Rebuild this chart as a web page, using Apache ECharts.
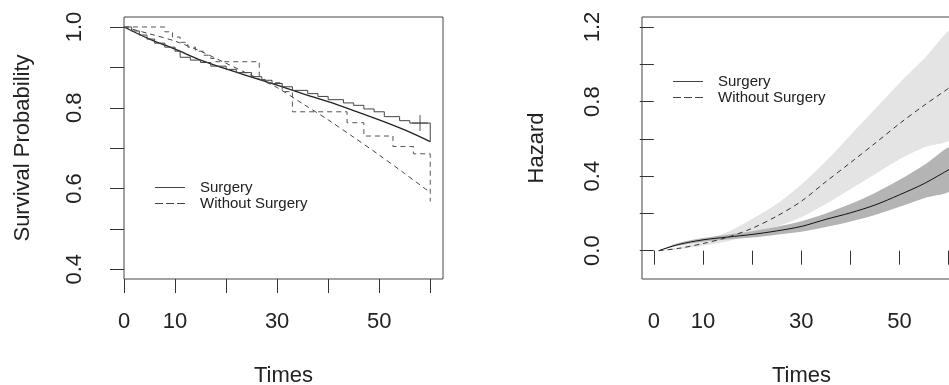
<!DOCTYPE html>
<html>
<head>
<meta charset="utf-8">
<script src="https://cdn.jsdelivr.net/npm/echarts@6/dist/echarts.min.js"></script>
<style>
  html, body { margin: 0; padding: 0; background: #fff; }
  #chart { width: 949px; height: 385px; }
</style>
</head>
<body>
<div id="chart"></div>
<script>
// left panel: survival curves
const survTimes = [0, 5, 10, 15, 20, 25, 30, 35, 40, 45, 50, 55, 60];
const survFitSurgery = [1.0, 0.97, 0.945, 0.918, 0.896, 0.876, 0.856, 0.835, 0.815, 0.793, 0.77, 0.745, 0.716];
const survFitNoSurgery = [1.0, 0.983, 0.965, 0.94, 0.91, 0.88, 0.85, 0.81, 0.77, 0.727, 0.683, 0.637, 0.59];

const kmTimesSurgery = [0, 1.5, 3, 4.5, 6, 8, 10, 11, 13, 15, 17, 20, 22, 25, 27, 29, 31, 33, 36, 38, 40, 43, 45, 47, 49, 51, 54, 56, 60];
const kmSurvSurgery = [1, 0.99, 0.98, 0.97, 0.96, 0.95, 0.94, 0.925, 0.918, 0.912, 0.903, 0.895, 0.887, 0.877, 0.868, 0.86, 0.852, 0.843, 0.835, 0.828, 0.82, 0.812, 0.806, 0.797, 0.79, 0.778, 0.768, 0.762, 0.716];
const kmTimesNoSurgery = [0, 8, 9.5, 11, 12.5, 14, 15.5, 17, 18, 26.5, 28, 31, 33, 43.7, 47, 52.7, 56.7, 60];
const kmSurvNoSurgery = [1, 0.988, 0.975, 0.962, 0.95, 0.94, 0.93, 0.922, 0.914, 0.87, 0.862, 0.84, 0.79, 0.763, 0.73, 0.704, 0.686, 0.568];
const censorSurgery = [[58, 0.762]];

// right panel: hazard curves with bands
const hazTimes = [1, 5, 10, 15, 20, 25, 30, 35, 40, 45, 50, 55, 61];
const hazSurgery = [0, 0.033, 0.058, 0.073, 0.087, 0.106, 0.13, 0.168, 0.203, 0.245, 0.3, 0.36, 0.45];
const hazLowerSurgery = [0, 0.026, 0.048, 0.06, 0.071, 0.086, 0.102, 0.127, 0.157, 0.192, 0.236, 0.282, 0.335];
const hazUpperSurgery = [0, 0.041, 0.068, 0.086, 0.104, 0.128, 0.158, 0.2, 0.25, 0.31, 0.38, 0.46, 0.56];
const hazNoSurgery = [0, 0.012, 0.038, 0.072, 0.12, 0.185, 0.265, 0.37, 0.472, 0.576, 0.682, 0.78, 0.89];
const hazLowerNoSurgery = [0, 0.008, 0.026, 0.05, 0.085, 0.13, 0.18, 0.25, 0.33, 0.41, 0.49, 0.555, 0.615];
const hazUpperNoSurgery = [0, 0.018, 0.055, 0.1, 0.17, 0.25, 0.355, 0.48, 0.62, 0.76, 0.9, 1.03, 1.185];

// axis ticks / labels
const xTicks = [0, 10, 20, 30, 40, 50, 60];
const xLabels = [0, 10, 30, 50];
const survTicks = [0.4, 0.5, 0.6, 0.7, 0.8, 0.9, 1.0];
const survLabels = [0.4, 0.6, 0.8, 1.0];
const hazTicks = [0, 0.2, 0.4, 0.6, 0.8, 1.0, 1.2];
const hazLabels = [0, 0.4, 0.8, 1.2];

const FONT = "'Liberation Sans', Arial, sans-serif";
const TEXT = "#222";
const LINE = "#222";

// legend line samples (solid / dashed)
const ICON_SOLID = "path://M0,0H30V1H0Z";
const ICON_DASHED = "path://M0,0H8V1H0ZM11,0H19V1H11ZM22,0H30V1H22Z";

const zip = (xs, ys) => xs.map((x, i) => [x, ys[i]]);

const chart = echarts.init(document.getElementById("chart"));

const xAxisBase = (min, max) => ({
  type: "value",
  min,
  max,
  name: "Times",
  nameLocation: "middle",
  nameGap: 86,
  nameTextStyle: { color: TEXT, fontSize: 22, fontFamily: FONT },
  axisLine: { show: false },
  axisTick: { show: true, length: 14, customValues: xTicks, lineStyle: { color: "#333" } },
  axisLabel: {
    customValues: xLabels,
    margin: 32,
    color: TEXT,
    fontSize: 22,
    fontFamily: FONT,
  },
  splitLine: { show: false },
});

const yAxisBase = (min, max, ticks, labels, name, gap) => ({
  type: "value",
  min,
  max,
  name,
  nameLocation: "middle",
  nameGap: gap,
  nameTextStyle: { color: TEXT, fontSize: 22, fontFamily: FONT },
  axisLine: { show: false },
  axisTick: { show: true, length: 14, customValues: ticks, lineStyle: { color: "#333" } },
  axisLabel: {
    customValues: labels,
    rotate: 90,
    margin: 38,
    color: TEXT,
    fontSize: 22,
    fontFamily: FONT,
    formatter: (v) => v.toFixed(1),
  },
  splitLine: { show: false },
});

const legendBase = (left, top) => ({
  data: [
    { name: "Surgery", icon: ICON_SOLID },
    { name: "Without Surgery", icon: ICON_DASHED },
  ],
  orient: "vertical",
  left,
  top,
  itemWidth: 30,
  itemHeight: 1.2,
  itemGap: 1,
  selectedMode: false,
  textStyle: { color: TEXT, fontSize: 15, fontFamily: FONT, lineHeight: 15, padding: [0, 0, 0, 10] },
});

// confidence band drawn as a polygon through the axis scales
const band = (name, times, lower, upper, color) => ({
  name,
  type: "custom",
  xAxisIndex: 1,
  yAxisIndex: 1,
  silent: true,
  clip: true,
  data: [0],
  renderItem: (params, api) => {
    const top = times.map((t, i) => api.coord([t, upper[i]]));
    const bottom = times.map((t, i) => api.coord([t, lower[i]])).reverse();
    return {
      type: "polygon",
      shape: { points: top.concat(bottom), smooth: 0.3 },
      style: { fill: color, stroke: null },
    };
  },
});

const option = {
  animation: false,
  backgroundColor: "#fff",
  grid: [
    { left: 124, top: 17, width: 319, height: 262, outerBoundsMode: "none", show: true, borderColor: "#444", borderWidth: 1 },
    { left: 642, top: 17, width: 319, height: 262, outerBoundsMode: "none", show: true, borderColor: "#444", borderWidth: 1 },
  ],
  xAxis: [
    { ...xAxisBase(0, 62.5), gridIndex: 0 },
    { ...xAxisBase(-2.4, 62.5), gridIndex: 1 },
  ],
  yAxis: [
    { ...yAxisBase(0.376, 1.0247, survTicks, survLabels, "Survival Probability", 90), gridIndex: 0 },
    { ...yAxisBase(-0.152, 1.254, hazTicks, hazLabels, "Hazard", 94), gridIndex: 1 },
  ],
  legend: [legendBase(150, 175), legendBase(668, 69)],
  series: [
    {
      name: "Surgery",
      type: "line",
      xAxisIndex: 0,
      yAxisIndex: 0,
      data: zip(survTimes, survFitSurgery),
      smooth: 0.3,
      symbol: "none",
      lineStyle: { color: LINE, width: 1.3 },
      itemStyle: { color: "#444" },
    },
    {
      name: "Without Surgery",
      type: "line",
      xAxisIndex: 0,
      yAxisIndex: 0,
      data: zip(survTimes, survFitNoSurgery),
      smooth: 0.3,
      symbol: "none",
      lineStyle: { color: "#444", width: 1, type: [5, 4] },
      itemStyle: { color: "#444" },
    },
    {
      name: "Surgery KM",
      type: "line",
      xAxisIndex: 0,
      yAxisIndex: 0,
      data: zip(kmTimesSurgery, kmSurvSurgery),
      step: "end",
      symbol: "none",
      lineStyle: { color: "#444", width: 1 },
    },
    {
      name: "Without Surgery KM",
      type: "line",
      xAxisIndex: 0,
      yAxisIndex: 0,
      data: zip(kmTimesNoSurgery, kmSurvNoSurgery),
      step: "end",
      symbol: "none",
      lineStyle: { color: "#555", width: 1, type: [5, 4] },
    },
    {
      name: "censored",
      type: "scatter",
      xAxisIndex: 0,
      yAxisIndex: 0,
      data: censorSurgery,
      symbol: "path://M-0.6,-10H0.6V10H-0.6ZM-10,-0.6H10V0.6H-10Z",
      symbolSize: 16,
      itemStyle: { color: "#222" },
    },
    band("Without CI", hazTimes, hazLowerNoSurgery, hazUpperNoSurgery, "#e4e4e4"),
    band("Surgery CI", hazTimes, hazLowerSurgery, hazUpperSurgery, "#b4b4b4"),
    {
      name: "Surgery hazard",
      type: "line",
      xAxisIndex: 1,
      yAxisIndex: 1,
      data: zip(hazTimes, hazSurgery),
      smooth: 0.3,
      symbol: "none",
      lineStyle: { color: "#111", width: 1 },
    },
    {
      name: "Without Surgery hazard",
      type: "line",
      xAxisIndex: 1,
      yAxisIndex: 1,
      data: zip(hazTimes, hazNoSurgery),
      smooth: 0.3,
      symbol: "none",
      lineStyle: { color: "#333", width: 1, type: [5, 4] },
    },
  ],
};

chart.setOption(option);
</script>
</body>
</html>
